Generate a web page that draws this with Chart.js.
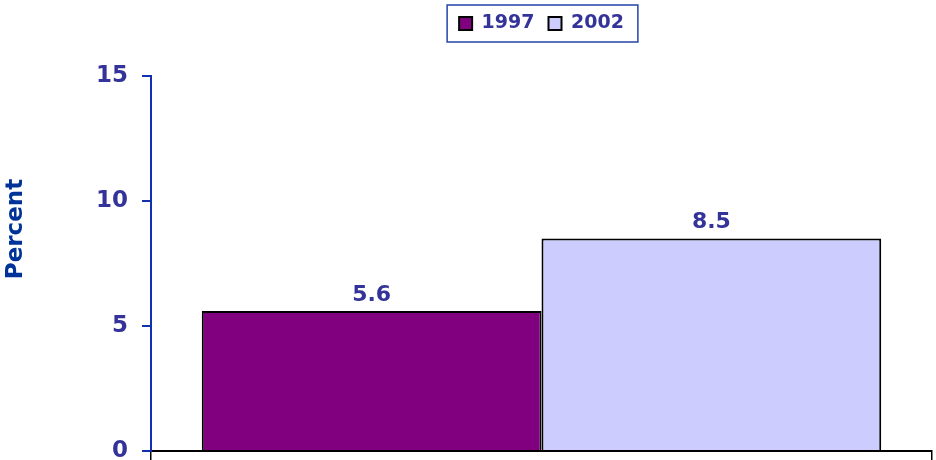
<!DOCTYPE html>
<html>
<head>
<meta charset="utf-8">
<script src="https://cdn.jsdelivr.net/npm/chart.js@4"></script>
<style>
  html, body { margin: 0; padding: 0; background: #fff; }
  #wrap { width: 936px; height: 460px; }
</style>
</head>
<body>
<div id="wrap"><canvas id="percentChart"></canvas></div>
<script>
// data
const categories = [''];
const seriesLabels = ['1997', '2002'];
const values1997 = [5.6];
const values2002 = [8.5];
const yTicks = [0, 5, 10, 15];

const textColor = '#333399';
const axisBlue = '#1030b0';
const font = 'DejaVu Sans';

// value labels above the bars
const barLabels = {
    id: 'barLabels',
    afterDatasetsDraw(chart) {
        const ctx = chart.ctx;
        ctx.save();
        ctx.fillStyle = textColor;
        ctx.font = 'bold 22px "' + font + '"';
        ctx.textAlign = 'center';
        ctx.textBaseline = 'bottom';
        chart.data.datasets.forEach((ds, i) => {
            chart.getDatasetMeta(i).data.forEach((bar, j) => {
                ctx.fillText(ds.data[j].toFixed(1), bar.x, bar.y - 5);
            });
        });
        ctx.restore();
    }
};

// legend frame + spacing, y axis title
const frame = {
    id: 'frame',
    beforeInit(chart) {
        const fit = chart.legend.fit;
        chart.legend.fit = function () {
            fit.call(this);
            this.height = 76;
        };
    },
    afterDraw(chart) {
        const ctx = chart.ctx;
        const boxes = chart.legend.legendHitBoxes;
        if (boxes && boxes.length) {
            const l = boxes[0].left - 12;
            const last = boxes[boxes.length - 1];
            const r = last.left + last.width + 14;
            const t = boxes[0].top - 9;
            const b = boxes[0].top + boxes[0].height + 9;
            ctx.save();
            ctx.strokeStyle = '#2244aa';
            ctx.lineWidth = 1.5;
            ctx.strokeRect(l, t, r - l, b - t);
            ctx.restore();
        }
        ctx.save();
        ctx.translate(16, 229);
        ctx.rotate(-Math.PI / 2);
        ctx.fillStyle = '#003399';
        ctx.font = 'bold 23px "' + font + '"';
        ctx.textAlign = 'center';
        ctx.textBaseline = 'middle';
        ctx.fillText('Percent', 0, 0);
        ctx.restore();
    }
};

const percentCtx = document.getElementById('percentChart').getContext('2d');
const percentChart = new Chart(percentCtx, {
    type: 'bar',
    data: {
        labels: categories,
        datasets: [{
            label: seriesLabels[0],
            data: values1997,
            backgroundColor: '#800080',
            borderColor: '#000000',
            borderWidth: 2,
        }, {
            label: seriesLabels[1],
            data: values2002,
            backgroundColor: '#ccccff',
            borderColor: '#000000',
            borderWidth: 2,
        }]
    },
    options: {
        responsive: true,
        maintainAspectRatio: false,
        animation: false,
        datasets: {
            bar: { barPercentage: 1, categoryPercentage: 0.87 }
        },
        layout: { padding: { left: 0, right: 4, top: 0, bottom: 0 } },
        plugins: {
            legend: {
                position: 'top',
                fullSize: false,
                labels: {
                    color: textColor,
                    font: { family: font, size: 19, weight: 'bold' },
                    boxWidth: 13,
                    boxHeight: 13,
                    padding: 14,
                }
            },
            tooltip: { enabled: false }
        },
        scales: {
            x: {
                ticks: { display: false },
                grid: { drawOnChartArea: false, color: '#000000', tickLength: 9, lineWidth: 1.5 },
                border: { color: '#000000', width: 2 },
                afterFit(scale) {
                    scale.height = 9;
                    scale.paddingLeft = 0;
                    scale.paddingRight = 0;
                }
            },
            y: {
                min: yTicks[0],
                max: yTicks[yTicks.length - 1],
                afterBuildTicks(scale) {
                    scale.ticks = yTicks.map(v => ({ value: v }));
                },
                ticks: {
                    color: textColor,
                    font: { family: font, size: 23, weight: 'bold' },
                    padding: 14,
                },
                grid: { drawOnChartArea: false, color: axisBlue, tickLength: 9, lineWidth: 2 },
                border: { color: axisBlue, width: 2 },
                afterFit(scale) {
                    scale.width = 151;
                    scale.paddingTop = 0;
                    scale.paddingBottom = 0;
                }
            }
        }
    },
    plugins: [barLabels, frame]
});
</script>
</body>
</html>
